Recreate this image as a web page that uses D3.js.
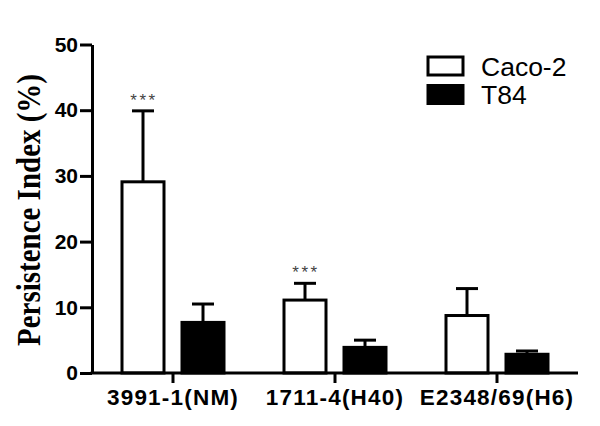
<!doctype html>
<html>
<head>
<title>persistence index bar chart</title>
<script src="https://d3js.org/d3.v7.min.js"></script>
<style>
body { margin: 0; background-color: #fff; }
.axis path, .axis line {
  fill: none;
  stroke: #000;
  stroke-width: 3px;
}
.y.axis text { font: bold 21px "Liberation Sans", Arial, sans-serif; fill: #000; }
.x.axis text { font: bold 22.5px "Liberation Sans", Arial, sans-serif; fill: #000; letter-spacing: 1.2px; }
.legend text { font: 26.5px "Liberation Sans", Arial, sans-serif; fill: #000; }
</style>
</head>
<body>
<svg width="600" height="426"></svg>
<script>

var strains = ["3991-1(NM)", "1711-4(H40)", "E2348/69(H6)"];
var cells = ["Caco-2", "T84"];
var caco2 = [29.1, 11.1, 8.75];
var caco2Err = [10.8, 2.55, 4.1];
var t84 = [7.7, 3.9, 2.85];
var t84Err = [2.8, 1.1, 0.5];
var stars = ["***", "***", ""];
var yTicks = [0, 10, 20, 30, 40, 50];

var svg = d3.select("svg");

var data = strains.map(function(s, i) {
  return {
    strain: s,
    stars: stars[i],
    vals: [
      {cell: cells[0], v: caco2[i], e: caco2Err[i]},
      {cell: cells[1], v: t84[i], e: t84Err[i]}
    ]
  };
});

var x0 = d3.scaleBand().domain(strains).range([92, 578]).padding(0);
var x1 = d3.scaleBand().domain(cells).range([0, x0.bandwidth()])
    .paddingInner(0.3).paddingOuter(0.5);
var y = d3.scaleLinear().domain([0, 50]).range([373, 44.5]);
var fill = d3.scaleOrdinal().domain(cells).range(["#fff", "#000"]);

// bars
var grp = svg.selectAll(".grp")
    .data(data)
  .enter().append("g")
    .attr("class", "grp")
    .attr("transform", function(d) { return "translate(" + x0(d.strain) + ",0)"; });

var bar = grp.selectAll(".bar")
    .data(function(d) { return d.vals; })
  .enter().append("g");

// error bars (upper only)
bar.append("line")
    .attr("x1", function(d) { return x1(d.cell) + x1.bandwidth() / 2; })
    .attr("x2", function(d) { return x1(d.cell) + x1.bandwidth() / 2; })
    .attr("y1", function(d) { return y(d.v); })
    .attr("y2", function(d) { return y(d.v + d.e); })
    .attr("stroke", "#000").attr("stroke-width", 3);
bar.append("line")
    .attr("x1", function(d) { return x1(d.cell) + x1.bandwidth() / 2 - 11; })
    .attr("x2", function(d) { return x1(d.cell) + x1.bandwidth() / 2 + 11; })
    .attr("y1", function(d) { return y(d.v + d.e); })
    .attr("y2", function(d) { return y(d.v + d.e); })
    .attr("stroke", "#000").attr("stroke-width", 3);

bar.append("rect")
    .attr("x", function(d) { return x1(d.cell); })
    .attr("y", function(d) { return y(d.v); })
    .attr("width", x1.bandwidth())
    .attr("height", function(d) { return y(0) - y(d.v); })
    .attr("fill", function(d) { return fill(d.cell); })
    .attr("stroke", "#000")
    .attr("stroke-width", 3);

// significance stars
grp.append("text")
    .attr("x", x1(cells[0]) + x1.bandwidth() / 2 + 1)
    .attr("y", function(d) { return y(d.vals[0].v + d.vals[0].e) - 5; })
    .attr("text-anchor", "middle")
    .style("font", "17px 'Liberation Sans', Arial, sans-serif")
    .style("letter-spacing", "2.5px")
    .attr("fill", "#444")
    .text(function(d) { return d.stars; });

// axes
svg.append("g")
    .attr("class", "x axis")
    .attr("transform", "translate(0," + y(0) + ")")
    .call(d3.axisBottom(x0).tickSize(10).tickSizeOuter(0).tickPadding(6));

svg.append("g")
    .attr("class", "y axis")
    .attr("transform", "translate(92,0)")
    .call(d3.axisLeft(y).tickValues(yTicks).tickSize(12).tickSizeOuter(0).tickPadding(2));

svg.select(".x.axis .domain").attr("d", "M90.5,0H578");

svg.append("text")
    .attr("transform", "translate(40,210) rotate(-90)")
    .attr("text-anchor", "middle")
    .attr("textLength", 272)
    .attr("lengthAdjust", "spacingAndGlyphs")
    .style("font", "bold 33px 'Liberation Serif', 'Times New Roman', serif")
    .text("Persistence Index (%)");

// legend
var legend = svg.append("g").attr("class", "legend")
    .selectAll("g")
    .data(cells)
  .enter().append("g")
    .attr("transform", function(d, i) { return "translate(428," + (57 + i * 28.5) + ")"; });

legend.append("rect")
    .attr("width", 35)
    .attr("height", 18)
    .attr("fill", function(d) { return fill(d); })
    .attr("stroke", "#000")
    .attr("stroke-width", 3);

legend.append("text")
    .attr("x", 53)
    .attr("y", 9)
    .attr("dy", "0.36em")
    .text(function(d) { return d; });

</script>
</body>
</html>
